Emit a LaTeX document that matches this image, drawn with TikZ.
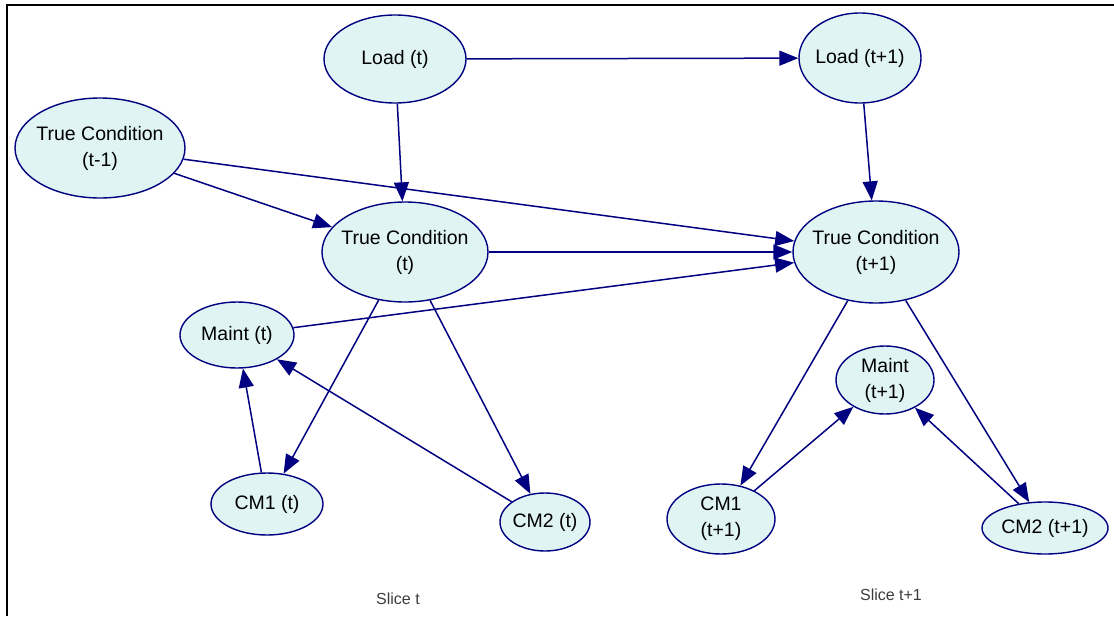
\documentclass[tikz,border=0pt]{standalone}
\usepackage{fontspec}
\setmainfont{Liberation Sans}
\usetikzlibrary{shapes.geometric,arrows.meta}
\definecolor{edgeblue}{RGB}{0,0,128}
\definecolor{nodefill}{RGB}{225,244,244}
\definecolor{slicegray}{RGB}{60,60,60}
\tikzset{
  bn/.style={ellipse, draw=edgeblue, line width=1.4pt, fill=nodefill,
    inner xsep=-30pt, inner ysep=-15pt,
    align=center, font=\fontsize{19.5}{26}\selectfont, text=black},
  link/.style={draw=edgeblue, line width=1.5pt, -{Triangle[length=19pt,width=15pt]}},
  slicelabel/.style={font=\fontsize{16}{18}\selectfont, text=slicegray},
}
\begin{document}
\begin{tikzpicture}[x=1pt,y=-1pt]
\useasboundingbox (0,0) rectangle (1114,616);
\draw[line width=2.5pt, black] (7,616) -- (7,5) -- (1114,5);

\node[bn, minimum width=142pt, minimum height=88pt] (Lt) at (395,59) {Load (t)};
\node[bn, minimum width=170pt, minimum height=100pt] (TCm) at (100,148) {True Condition\\(t-1)};
\node[bn, minimum width=166pt, minimum height=100pt] (TCt) at (405,252) {True Condition\\(t)};
\node[bn, minimum width=114pt, minimum height=66pt] (Mt) at (237,335) {Maint (t)};
\node[bn, minimum width=112pt, minimum height=62pt] (CMa) at (267,504) {CM1 (t)};
\node[bn, minimum width=90pt, minimum height=58pt] (CMb) at (545,522) {CM2 (t)};
\node[bn, minimum width=122pt, minimum height=90pt] (Lt1) at (860,58) {Load (t+1)};
\node[bn, minimum width=166pt, minimum height=102pt] (TCt1) at (876,252) {True Condition\\(t+1)};
\node[bn, minimum width=98pt, minimum height=68pt] (Mt1) at (885,380) {Maint\\(t+1)};
\node[bn, minimum width=108pt, minimum height=70pt] (CMa1) at (721,519) {CM1\\(t+1)};
\node[bn, minimum width=126pt, minimum height=52pt] (CMb1) at (1045,528) {CM2 (t+1)};

\node[slicelabel] (S1) at (398,599) {Slice t};
\node[slicelabel] (S2) at (891,595) {Slice t+1};

\draw[link] (Lt) -- (Lt1);
\draw[link] (Lt) -- (TCt);
\draw[link] (TCm) -- (TCt);
\draw[link] (TCm) -- (TCt1);
\draw[link] (TCt) -- (TCt1);
\draw[link] (Mt) -- (TCt1);
\draw[link] (Lt1) -- (TCt1);
\draw[link] (TCt) -- (CMa);
\draw[link] (TCt) -- (CMb);
\draw[link] (CMa) -- (Mt);
\draw[link] (CMb) -- (Mt);
\draw[link] (TCt1) -- (CMa1);
\draw[link] (TCt1) -- (CMb1);
\draw[link] (CMa1) -- (Mt1);
\draw[link] (CMb1) -- (Mt1);
\end{tikzpicture}
\end{document}
